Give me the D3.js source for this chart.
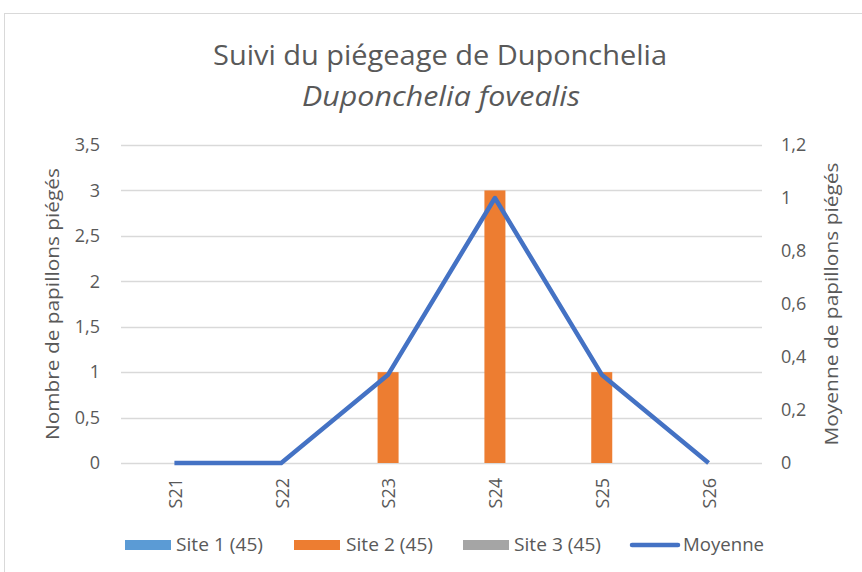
<!DOCTYPE html>
<html>
<head>
<meta charset="utf-8">
<script src="https://cdn.jsdelivr.net/npm/d3@7"></script>
<style>
  body { margin: 0; background: #fff; }
  text { font-family: "Open Sans", "Noto Sans", sans-serif; fill: #595959; }
</style>
</head>
<body>
<svg id="chart" width="862" height="572"></svg>
<script>
// data
const weeks = ['S21', 'S22', 'S23', 'S24', 'S25', 'S26'];
const site1 = [0, 0, 0, 0, 0, 0];
const site2 = [0, 0, 1, 3, 1, 0];
const site3 = [0, 0, 0, 0, 0, 0];
const moyenne = [0, 0, 0.3333, 1, 0.3333, 0];
const leftTicks = [0, 0.5, 1, 1.5, 2, 2.5, 3, 3.5];
const rightTicks = [0, 0.2, 0.4, 0.6, 0.8, 1, 1.2];
const seriesNames = ['Site 1 (45)', 'Site 2 (45)', 'Site 3 (45)'];
const seriesColors = ['#5B9BD5', '#ED7D31', '#A5A5A5'];
const lineColor = '#4472C4';

const svg = d3.select('#chart');
const plot = {left: 121, right: 762, top: 145, bottom: 463};

// chart border
svg.append('rect')
  .attr('x', 4.5).attr('y', 13.5)
  .attr('width', 900).attr('height', 600)
  .attr('fill', 'none').attr('stroke', '#D9D9D9');

const x = d3.scaleBand().domain(weeks).range([plot.left, plot.right]);
const barW = 21;
const yLeft = d3.scaleLinear().domain([0, 3.5]).range([plot.bottom, plot.top]);
const yRight = d3.scaleLinear().domain([0, 1.2]).range([plot.bottom, plot.top]);
const fmt = d => String(+d.toFixed(1)).replace('.', ',');

// gridlines
svg.append('g')
  .selectAll('line')
  .data(leftTicks)
  .enter().append('line')
    .attr('x1', plot.left).attr('x2', plot.right)
    .attr('y1', d => Math.round(yLeft(d)) + 0.5)
    .attr('y2', d => Math.round(yLeft(d)) + 0.5)
    .attr('stroke', '#D9D9D9').attr('stroke-width', 1.5);

// left axis labels
svg.append('g')
  .selectAll('text')
  .data(leftTicks)
  .enter().append('text')
    .attr('x', 100).attr('y', d => yLeft(d))
    .attr('dy', '0.35em')
    .attr('text-anchor', 'end')
    .style('font-size', '18px')
    .text(fmt);

// right axis labels
svg.append('g')
  .selectAll('text')
  .data(rightTicks)
  .enter().append('text')
    .attr('x', 781).attr('y', d => yRight(d))
    .attr('dy', '0.35em')
    .attr('text-anchor', 'start')
    .style('font-size', '18px')
    .text(fmt);

// bars
const barData = [site1, site2, site3];
barData.forEach((vals, i) => {
  svg.append('g')
    .selectAll('rect')
    .data(vals)
    .enter().append('rect')
      .attr('x', (d, j) => x(weeks[j]) + x.bandwidth() / 2 + (i - 1) * barW - barW / 2)
      .attr('width', barW)
      .attr('y', d => yLeft(d))
      .attr('height', d => plot.bottom - yLeft(d))
      .attr('fill', seriesColors[i]);
});

// moyenne line
const line = d3.line()
  .x((d, i) => x(weeks[i]) + x.bandwidth() / 2)
  .y(d => yRight(d));
svg.append('path')
  .datum(moyenne)
  .attr('d', line)
  .attr('fill', 'none')
  .attr('stroke', lineColor)
  .attr('stroke-width', 4.5)
  .attr('stroke-linejoin', 'round');

// x labels, rotated
svg.append('g')
  .selectAll('text')
  .data(weeks)
  .enter().append('text')
    .attr('transform', d => `translate(${x(d) + x.bandwidth() / 2 + 1},478) rotate(-90)`)
    .attr('dy', '0.35em')
    .attr('text-anchor', 'end')
    .style('font-size', '18px')
    .text(d => d);

// titles
svg.append('text')
  .attr('x', 440).attr('y', 65)
  .attr('text-anchor', 'middle')
  .attr('textLength', 454).attr('lengthAdjust', 'spacingAndGlyphs')
  .style('font-size', '27px')
  .text('Suivi du piégeage de Duponchelia');
svg.append('text')
  .attr('x', 441).attr('y', 106)
  .attr('text-anchor', 'middle')
  .attr('textLength', 278).attr('lengthAdjust', 'spacingAndGlyphs')
  .style('font-size', '27px')
  .style('font-style', 'italic')
  .text('Duponchelia fovealis');

svg.append('text')
  .attr('transform', 'translate(59,304) rotate(-90)')
  .attr('text-anchor', 'middle')
  .attr('textLength', 272).attr('lengthAdjust', 'spacingAndGlyphs')
  .style('font-size', '19px')
  .text('Nombre de papillons piégés');
svg.append('text')
  .attr('transform', 'translate(838,304) rotate(-90)')
  .attr('text-anchor', 'middle')
  .attr('textLength', 283).attr('lengthAdjust', 'spacingAndGlyphs')
  .style('font-size', '19px')
  .text('Moyenne de papillons piégés');

// legend
const legendItems = [
  {name: seriesNames[0], color: seriesColors[0], x: 125, tx: 176, w: 87, type: 'rect'},
  {name: seriesNames[1], color: seriesColors[1], x: 294, tx: 346, w: 87, type: 'rect'},
  {name: seriesNames[2], color: seriesColors[2], x: 463, tx: 514, w: 87, type: 'rect'},
  {name: 'Moyenne', color: lineColor, x: 630, tx: 683, w: 81, type: 'line'}
];
const lg = svg.append('g').selectAll('g')
  .data(legendItems)
  .enter().append('g');
lg.filter(d => d.type === 'rect').append('rect')
  .attr('x', d => d.x).attr('y', 540).attr('width', 46).attr('height', 10)
  .attr('fill', d => d.color);
lg.filter(d => d.type === 'line').append('line')
  .attr('x1', d => d.x + 2).attr('x2', d => d.x + 48).attr('y1', 545).attr('y2', 545)
  .attr('stroke', d => d.color).attr('stroke-width', 4.5)
  .attr('stroke-linecap', 'round');
lg.append('text')
  .attr('x', d => d.tx).attr('y', 545)
  .attr('dy', '0.35em')
  .attr('textLength', d => d.w).attr('lengthAdjust', 'spacingAndGlyphs')
  .style('font-size', '18px')
  .text(d => d.name);
</script>
</body>
</html>
